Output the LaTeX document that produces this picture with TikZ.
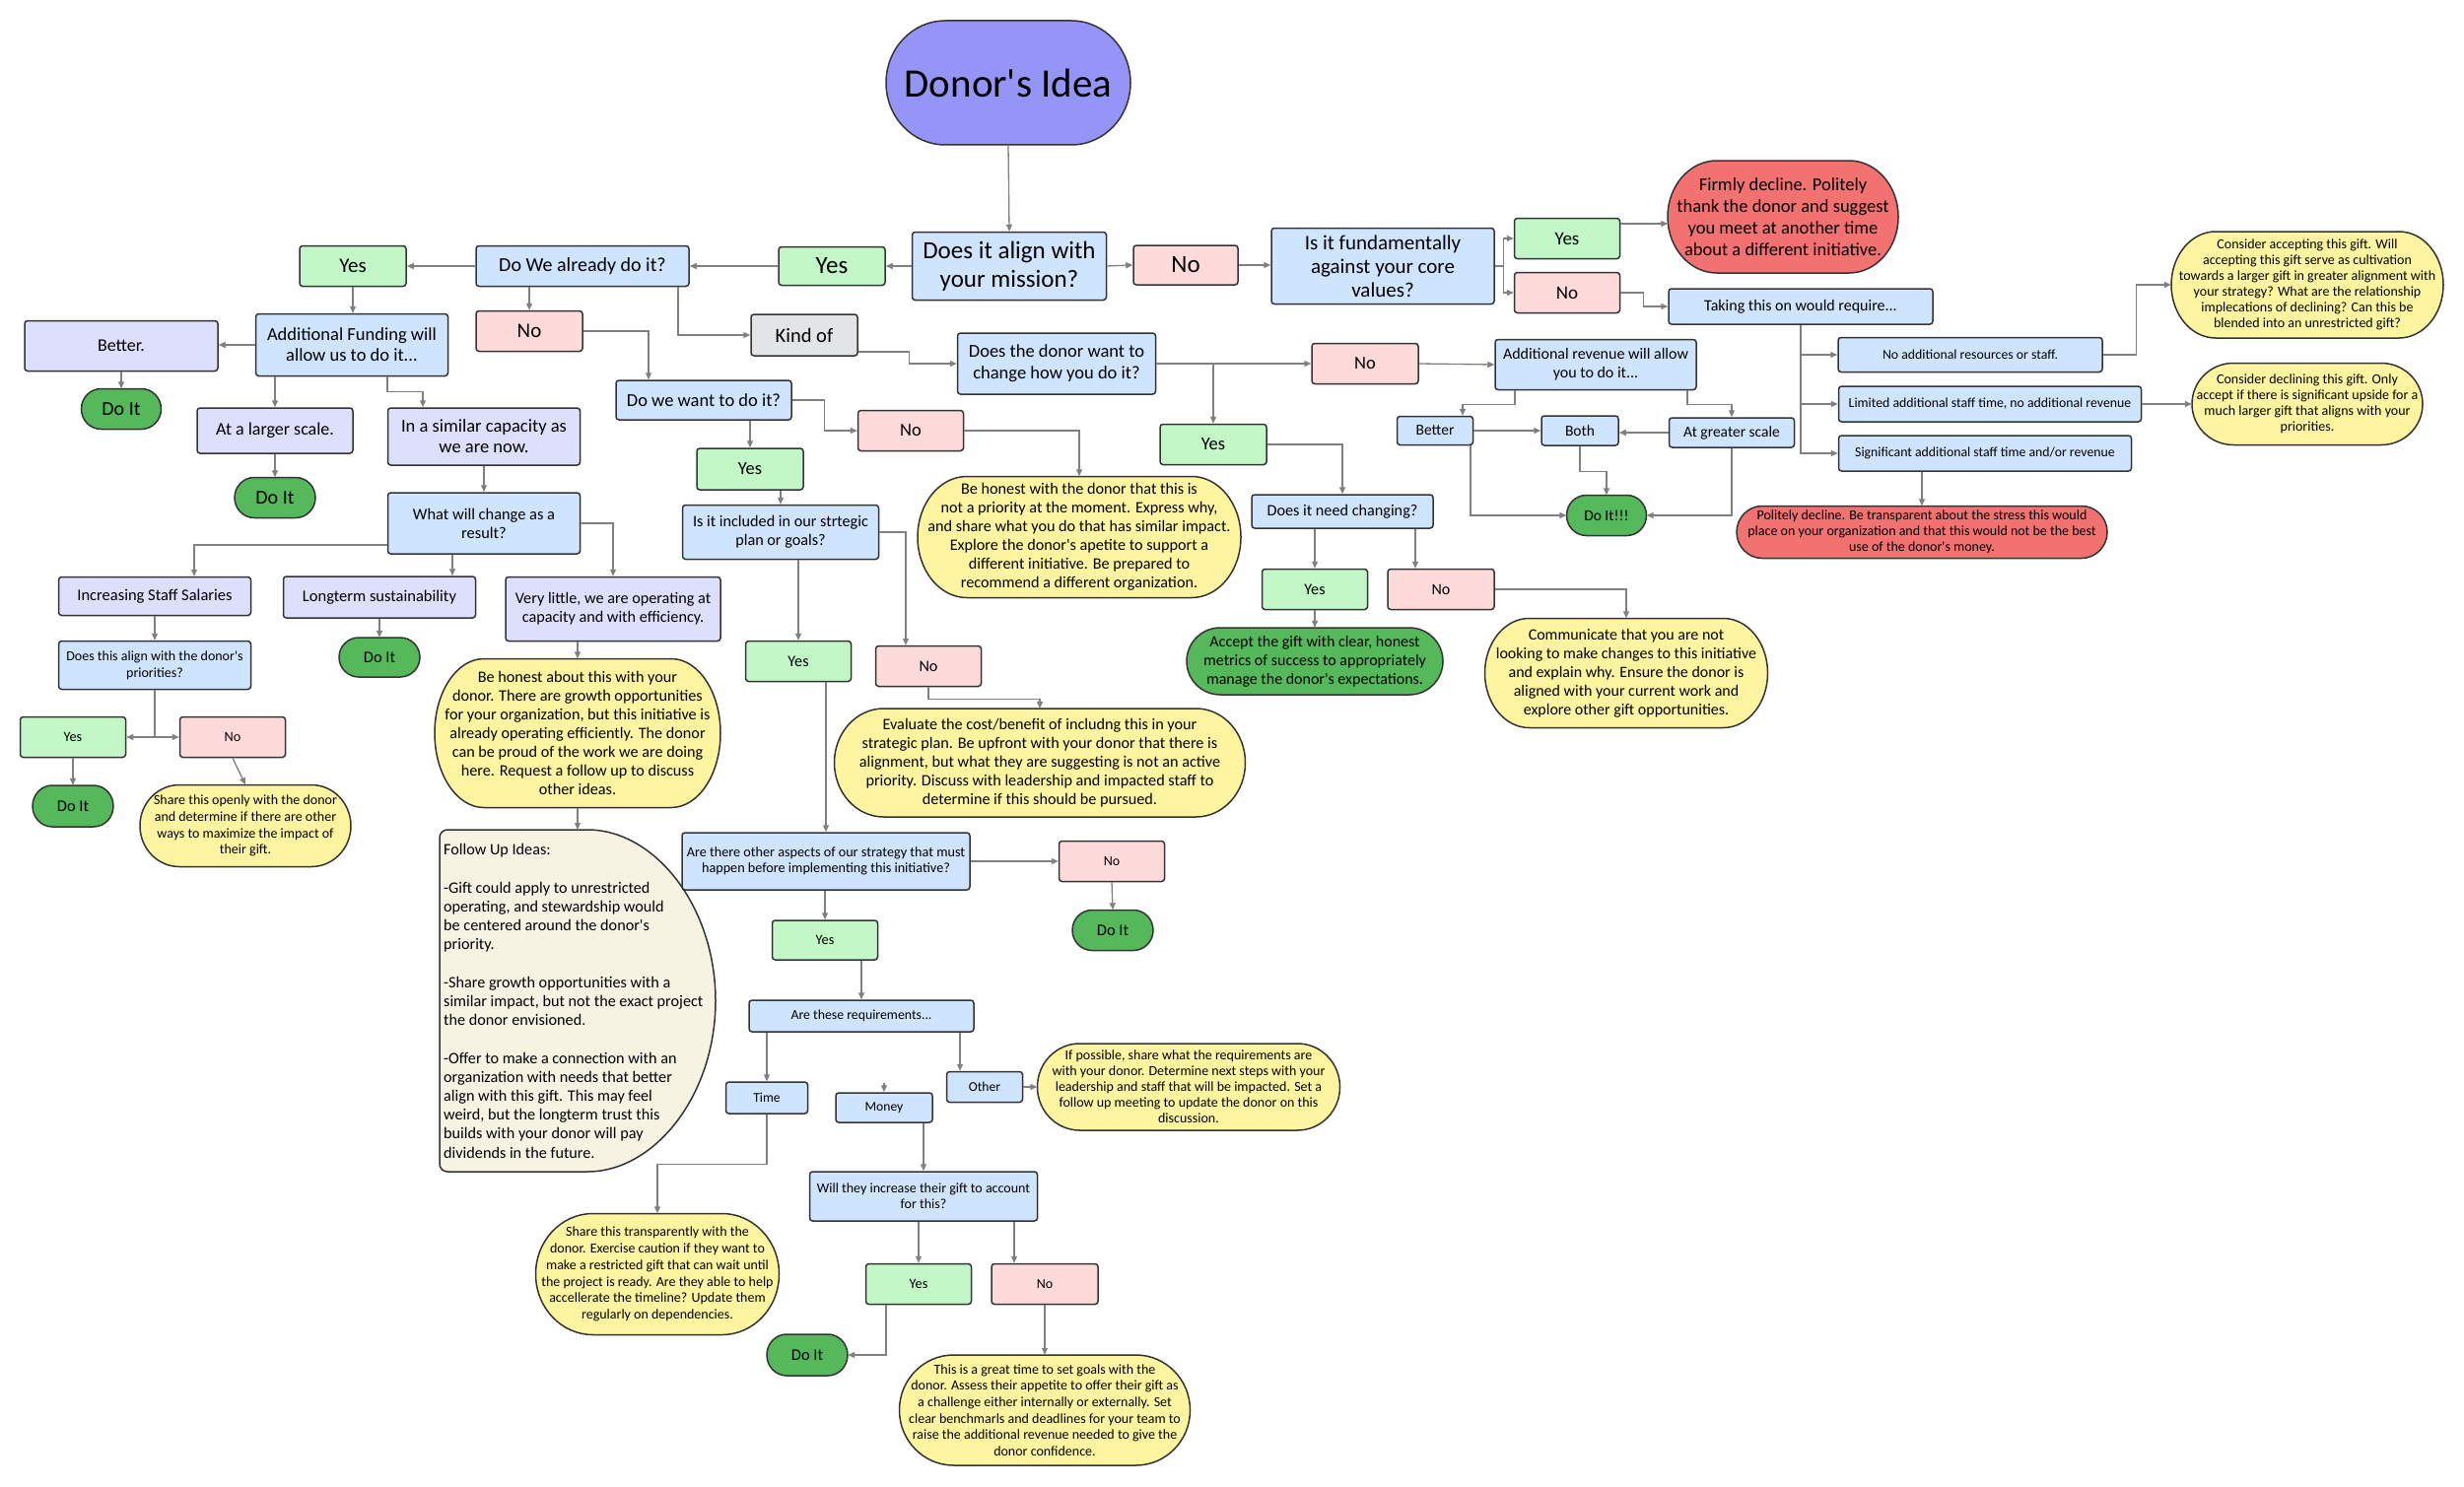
\documentclass[tikz,border=0pt]{standalone}
\usepackage{fontspec}
\setmainfont{Carlito}
\usetikzlibrary{arrows.meta,calc}
\definecolor{bluef}{HTML}{CFE4FF}
\definecolor{greenf}{HTML}{C3F7C8}
\definecolor{pinkf}{HTML}{FFDADA}
\definecolor{lavf}{HTML}{DEDEFD}
\definecolor{grayf}{HTML}{E3E4E6}
\definecolor{doitf}{HTML}{55B95C}
\definecolor{redf}{HTML}{F27272}
\definecolor{yelf}{HTML}{FFF5A1}
\definecolor{creamf}{HTML}{F6F3E3}
\definecolor{donorf}{HTML}{9595F8}
\definecolor{bd}{HTML}{333333}
\definecolor{conncol}{HTML}{808080}
\newcommand\fs[2]{\fontsize{#1}{#2}\selectfont}
\newcommand\ap{\textquotesingle}
% name, fill, cx, cy, w, h, rx, font, text
\newcommand\pill[9]{%
  \filldraw[fill=#2, draw=bd, line width=1.5pt]
    ({#3-#5/2+#7},{#4-#6/2}) -- ({#3+#5/2-#7},{#4-#6/2})
    arc[start angle=90,end angle=-90,x radius=#7pt,y radius={#6*0.5pt}]
    -- ({#3-#5/2+#7},{#4+#6/2})
    arc[start angle=270,end angle=90,x radius=#7pt,y radius={#6*0.5pt}] -- cycle;
  \node[txt, minimum width=#5pt, minimum height=#6pt, font=#8] (#1) at (#3,#4) {#9};}
\tikzset{
  txt/.style={inner sep=0pt, align=center},
  wh/.style 2 args={minimum width=#1pt, minimum height=#2pt},
  rbox/.style={draw=bd, line width=1.5pt, rounded corners=3pt, inner sep=1pt, align=center},
  qbox/.style={rbox, fill=bluef},
  ybox/.style={rbox, fill=greenf},
  nbox/.style={rbox, fill=pinkf},
  lbox/.style={rbox, fill=lavf},
  gbox/.style={rbox, fill=grayf},
  conn/.style={draw=conncol, line width=1.3pt, -{Triangle[length=7pt,width=6pt]}},
}
\begin{document}
\begin{tikzpicture}[x=1pt,y=-1pt]
\useasboundingbox (0,0) rectangle (2500,1509);
\fill[white] (0,0) rectangle (2500,1509);

% ---------- pill shapes ----------
\pill{donor}{donorf}{1023}{84}{248}{126}{60}{\fs{41}{44}}{Donor\ap s Idea}
\pill{firmly}{redf}{1809}{220}{234}{114}{50}{\fs{18.5}{22}}{Firmly decline. Politely\\thank the donor and suggest\\you meet at another time\\about a different initiative.}
\pill{politely}{redf}{1950}{540}{376}{53}{26}{\fs{14}{16}}{Politely decline. Be transparent about the stress this would\\place on your organization and that this would not be the best\\use of the donor\ap s money.}
\pill{consA}{yelf}{2341}{289}{276}{108}{45}{\fs{14}{16}}{Consider accepting this gift. Will\\accepting this gift serve as cultivation\\towards a larger gift in greater alignment with\\your strategy? What are the relationship\\implecations of declining? Can this be\\blended into an unrestricted gift?}
\pill{consD}{yelf}{2341}{410}{234}{83}{42}{\fs{14}{16}}{Consider declining this gift. Only\\accept if there is significant upside for a\\much larger gift that aligns with your\\priorities.}
\pill{doit1}{doitf}{123}{415}{81}{41}{20}{\fs{20}{22}}{Do It}
\pill{doit2}{doitf}{279}{505}{82}{41}{20}{\fs{20}{22}}{Do It}
\pill{doitL}{doitf}{385}{667}{82}{40}{20}{\fs{16.5}{19}}{Do It}
\pill{doitD}{doitf}{74}{818}{82}{42}{20}{\fs{16.5}{19}}{Do It}
\pill{shareO}{yelf}{249}{838}{214}{83}{40}{\fs{14}{16.7}}{Share this openly with the donor\\and determine if there are other\\ways to maximize the impact of\\their gift.}
\pill{beh}{yelf}{586}{744}{290}{151}{50}{\fs{16.2}{19}}{Be honest about this with your\\donor. There are growth opportunities\\for your organization, but this initiative is\\already operating efficiently. The donor\\can be proud of the work we are doing\\here. Request a follow up to discuss\\other ideas.}
\pill{honestD}{yelf}{1095}{545}{328}{123}{50}{\fs{16.2}{19}}{Be honest with the donor that this is\\not a priority at the moment. Express why,\\and share what you do that has similar impact.\\Explore the donor\ap s apetite to support a\\different initiative. Be prepared to\\recommend a different organization.}
\pill{eval}{yelf}{1055}{774}{417}{110}{50}{\fs{16.2}{19}}{Evaluate the cost/benefit of includng this in your\\strategic plan. Be upfront with your donor that there is\\alignment, but what they are suggesting is not an active\\priority. Discuss with leadership and impacted staff to\\determine if this should be pursued.}
\pill{doitX}{doitf}{1129}{944}{82}{41}{20}{\fs{16.5}{19}}{Do It}
\pill{ifposs}{yelf}{1206}{1103}{307}{88}{43}{\fs{14}{16}}{If possible, share what the requirements are\\with your donor. Determine next steps with your\\leadership and staff that will be impacted. Set a\\follow up meeting to update the donor on this\\discussion.}
\pill{shareT}{yelf}{667}{1293}{247}{123}{58}{\fs{14}{16.7}}{Share this transparently with the\\donor. Exercise caution if they want to\\make a restricted gift that can wait until\\the project is ready. Are they able to help\\accellerate the timeline? Update them\\regularly on dependencies.}
\pill{doitM}{doitf}{819}{1375}{82}{42}{20}{\fs{16.5}{19}}{Do It}
\pill{great}{yelf}{1060}{1431}{295}{112}{55}{\fs{14}{16.7}}{This is a great time to set goals with the\\donor. Assess their appetite to offer their gift as\\a challenge either internally or externally. Set\\clear benchmarls and deadlines for your team to\\raise the additional revenue needed to give the\\donor confidence.}
\pill{doitR}{doitf}{1630}{523}{81}{41}{20}{\fs{15.5}{18}}{Do It!!!}
\pill{accept}{doitf}{1334}{671}{260}{68}{34}{\fs{16}{19}}{Accept the gift with clear, honest\\metrics of success to appropriately\\manage the donor\ap s expectations.}
\pill{comm}{yelf}{1650}{683}{287}{111}{45}{\fs{16}{19}}{Communicate that you are not\\looking to make changes to this initiative\\and explain why. Ensure the donor is\\aligned with your current work and\\explore other gift opportunities.}

% follow up shape
\filldraw[fill=creamf, draw=bd, line width=1.5pt, rounded corners=8pt]
  (500,842) -- (446,842) -- (446,1189) -- (588,1189)
  arc[start angle=-90,end angle=90,x radius=138pt,y radius=173.5pt] -- cycle;
\node[txt, align=left, anchor=west, font=\fs{16.2}{19.2}] (fu) at (450,1016)
 {Follow Up Ideas:\\[19.2pt]-Gift could apply to unrestricted\\operating, and stewardship would\\be centered around the donor\ap s\\priority.\\[19.2pt]-Share growth opportunities with a\\similar impact, but not the exact project\\the donor envisioned.\\[19.2pt]-Offer to make a connection with an\\organization with needs that better\\align with this gift. This may feel\\weird, but the longterm trust this\\builds with your donor will pay\\dividends in the future.};
\coordinate (futop) at (586,842);

% ---------- rectangles ----------
\node[qbox, wh={197}{69}, font=\fs{25}{29}] (align) at (1024,270) {Does it align with\\your mission?};
\node[ybox, wh={108}{39}, font=\fs{25}{29}] (yesA) at (844,270) {Yes};
\node[nbox, wh={106}{40}, font=\fs{25}{29}] (noA) at (1203,269) {No};
\node[qbox, wh={226}{77}, font=\fs{21}{24}] (fund) at (1403,270) {Is it fundamentally\\against your core\\values?};
\node[ybox, wh={107}{41}, font=\fs{19}{22}] (yesF) at (1590,242) {Yes};
\node[nbox, wh={107}{41}, font=\fs{19}{22}] (noF) at (1590,297) {No};
\node[qbox, wh={268}{36}, font=\fs{16}{19}] (taking) at (1827,311) {Taking this on would require...};
\node[qbox, wh={268}{35}, font=\fs{13.8}{16}] (opt1) at (1999,360) {No additional resources or staff.};
\node[qbox, wh={307}{36}, font=\fs{13.8}{16}] (opt2) at (2019,410) {Limited additional staff time, no additional revenue};
\node[qbox, wh={297}{36}, font=\fs{13.8}{16}] (opt3) at (2014,460) {Significant additional staff time and/or revenue};

\node[qbox, wh={216}{41}, font=\fs{20}{23}] (already) at (591,270) {Do We already do it?};
\node[ybox, wh={108}{41}, font=\fs{21}{23}] (yesL) at (358,270) {Yes};
\node[qbox, wh={195}{63}, font=\fs{18.5}{21}] (addf) at (357,350) {Additional Funding will\\allow us to do it...};
\node[lbox, wh={196}{51}, font=\fs{18}{21}] (better) at (123,351) {Better.};
\node[lbox, wh={158}{46}, font=\fs{18}{21}] (larger) at (279,437) {At a larger scale.};
\node[lbox, wh={195}{58}, font=\fs{18.5}{21}] (similar) at (491,443) {In a similar capacity as\\we are now.};
\node[qbox, wh={195}{62}, font=\fs{16.4}{19}] (what) at (491,531) {What will change as a\\result?};
\node[lbox, wh={195}{39}, font=\fs{16.5}{19}] (incr) at (157,605) {Increasing Staff Salaries};
\node[lbox, wh={195}{42}, font=\fs{16.5}{19}] (longt) at (385,606) {Longterm sustainability};
\node[lbox, wh={218}{65}, font=\fs{16.2}{19}] (very) at (622,618) {Very little, we are operating at\\capacity and with efficiency.};
\node[qbox, wh={195}{49}, font=\fs{14}{17}] (alignd) at (157,675) {Does this align with the donor\ap s\\priorities?};
\node[ybox, wh={107}{41}, font=\fs{14.3}{17}] (yesD) at (74,748) {Yes};
\node[nbox, wh={107}{41}, font=\fs{14.3}{17}] (noD2) at (236,748) {No};

\node[nbox, wh={108}{41}, font=\fs{21}{23}] (noD) at (537,336) {No};
\node[gbox, wh={108}{42}, font=\fs{20.5}{23}] (kind) at (816,340) {Kind of};
\node[qbox, wh={178}{40}, font=\fs{18.5}{21}] (want) at (714,406) {Do we want to do it?};
\node[nbox, wh={107}{41}, font=\fs{18.5}{21}] (noW) at (924,437) {No};
\node[ybox, wh={108}{42}, font=\fs{18.5}{21}] (yesW) at (761,476) {Yes};
\node[qbox, wh={199}{55}, font=\fs{16.2}{19}] (incl) at (792,540) {Is it included in our strtegic\\plan or goals?};
\node[ybox, wh={107}{41}, font=\fs{16.2}{19}] (yesS) at (810,671) {Yes};
\node[nbox, wh={107}{41}, font=\fs{16.2}{19}] (noS) at (942,676) {No};
\node[qbox, wh={292}{58}, font=\fs{14.2}{16}] (aspects) at (838,874) {Are there other aspects of our strategy that must\\happen before implementing this initiative?};
\node[nbox, wh={107}{41}, font=\fs{14}{16}] (noX) at (1128,874) {No};
\node[ybox, wh={107}{40}, font=\fs{14.3}{16}] (yesX) at (837,954) {Yes};
\node[qbox, wh={228}{32}, font=\fs{13.8}{16}] (req) at (874,1031) {Are these requirements...};
\node[qbox, wh={83}{32}, font=\fs{13.6}{16}] (time) at (778,1114) {Time};
\node[qbox, wh={98}{30}, font=\fs{13.6}{16}] (money) at (897,1124) {Money};
\node[qbox, wh={77}{31}, font=\fs{13.6}{16}] (other) at (999,1103) {Other};
\node[qbox, wh={231}{50}, font=\fs{14}{16}] (willthey) at (937,1214) {Will they increase their gift to account\\for this?};
\node[ybox, wh={107}{41}, font=\fs{14.3}{16}] (yesM) at (932,1303) {Yes};
\node[nbox, wh={108}{41}, font=\fs{14}{16}] (noM) at (1060,1303) {No};

\node[qbox, wh={201}{62}, font=\fs{18.5}{22}] (dwant) at (1072,369) {Does the donor want to\\change how you do it?};
\node[ybox, wh={108}{41}, font=\fs{18.5}{21}] (yesR) at (1231,451) {Yes};
\node[nbox, wh={108}{41}, font=\fs{18.5}{21}] (noR) at (1385,369) {No};
\node[qbox, wh={204}{51}, font=\fs{16}{19}] (addrev) at (1619,370) {Additional revenue will allow\\you to do it...};
\node[qbox, wh={77}{29}, font=\fs{15.5}{18}] (betterR) at (1456,437) {Better};
\node[qbox, wh={78}{30}, font=\fs{15.5}{18}] (both) at (1603,437) {Both};
\node[qbox, wh={127}{30}, font=\fs{15.5}{18}] (atg) at (1757,439) {At greater scale};
\node[qbox, wh={184}{34}, font=\fs{16.2}{19}] (needc) at (1362,519) {Does it need changing?};
\node[ybox, wh={107}{41}, font=\fs{16.2}{19}] (yesN) at (1334,598) {Yes};
\node[nbox, wh={108}{41}, font=\fs{16}{19}] (noN) at (1462,598) {No};

% ---------- connectors ----------
\draw[conn] (donor.south) -- (align.north);
\draw[conn] (align.west) -- (yesA.east);
\draw[conn] (yesA.west) -- (already.east);
\draw[conn] (align.east) -- (noA.west);
\draw[conn] (noA.east) -- (noA.east -| fund.west);
\draw[conn] (fund.east) -- ++(9,0) |- (yesF.west);
\draw[conn] (fund.east) -- ++(9,0) |- (noF.west);
\draw[conn] ($(yesF.east)+(0,-15)$) -- ++(48,0);
\draw[conn] (noF.east) -- ++(23,0) |- (taking.west);
\draw[conn] (taking.south) |- (opt1.west);
\draw[conn] (taking.south) |- (opt2.west);
\draw[conn] (taking.south) |- (opt3.west);
\draw[conn] (opt1.east) -- ++(34,0) |- (consA.west);
\draw[conn] (opt2.east) -- (consD.west);
\draw[conn] (politely.north |- opt3.south) -- (politely.north);

\draw[conn] (already.west) -- (yesL.east);
\draw[conn] (yesL.south) -- (yesL.south |- addf.north);
\draw[conn] (addf.west) -- (addf.west -| better.east);
\draw[conn] (better.south) -- (doit1.north);
\draw[conn] (larger.north |- addf.south) -- (larger.north);
\draw[conn] ($(addf.south)+(36,0)$) -- ++(0,15) -| ($(similar.north)+(-62,0)$);
\draw[conn] (larger.south) -- (doit2.north);
\draw[conn] (similar.south) -- (what.north);
\draw[conn] ($(what.west)+(0,22)$) -| ($(incr.north)+(40,0)$);
\draw[conn] ($(what.south)+(-32,0)$) -- ($(longt.north)+(74,0)$);
\draw[conn] (what.east) -| (very.north);
\draw[conn] (incr.south) -- (alignd.north);
\draw[conn] (alignd.south) |- (yesD.east);
\draw[conn] (alignd.south) |- (noD2.west);
\draw[conn] (yesD.south) -- (doitD.north);
\draw[conn] (noD2.south) -- (shareO.north);
\draw[conn] (longt.south) -- (doitL.north);
\draw[conn] (beh.north |- very.south) -- (beh.north);
\draw[conn] (beh.south) -- (futop);

\draw[conn] (noD.north |- already.south) -- (noD.north);
\draw[conn] (noD.east) -| ($(want.north)+(-56,0)$);
\draw[conn] ($(already.south)+(97,0)$) |- (kind.west);
\draw[conn] ($(kind.east)+(0,17)$) -- ++(52,0) |- (dwant.west);
\draw[conn] (want.east) -- ++(33,0) |- (noW.west);
\draw[conn] (noW.east) -| (honestD.north);
\draw[conn] (yesW.north |- want.south) -- (yesW.north);
\draw[conn] (incl.north |- yesW.south) -- (incl.north);
\draw[conn] (yesS.north |- incl.south) -- (yesS.north);
\draw[conn] (incl.east) -| ($(noS.north)+(-23,0)$);
\draw[conn] (noS.south) -- ++(0,12) -| (eval.north);
\draw[conn] (aspects.north |- yesS.south) -- (aspects.north);
\draw[conn] (aspects.east) -- (noX.west);
\draw[conn] (noX.south) -- (doitX.north);
\draw[conn] (yesX.north |- aspects.south) -- (yesX.north);
\draw[conn] (req.north |- yesX.south) -- (req.north);
\draw[conn] (time.north |- req.south) -- (time.north);
\path ($(other.north)+(-25,0)$) coordinate (othin);
\draw[conn] (othin |- req.south) -- (othin);
\draw[conn] ($(money.north)+(0,-9)$) -- (money.north);
\draw[conn] (other.east) -- (ifposs.west);
\draw[conn] (time.south) -- ++(0,51) -| (shareT.north);
\draw[conn] (willthey.north |- money.south) -- (willthey.north);
\draw[conn] (yesM.north |- willthey.south) -- (yesM.north);
\path ($(noM.north)+(-31,0)$) coordinate (nomin);
\draw[conn] (nomin |- willthey.south) -- (nomin);
\draw[conn] ($(yesM.south)+(-33,0)$) |- (doitM.east);
\draw[conn] (noM.south) -- (great.north);

\draw[conn] (dwant.east) -| (yesR.north);
\draw[conn] (dwant.east) -- (noR.west);
\draw[conn] (noR.east) -- (addrev.west);
\draw[conn] ($(addrev.south)+(-82,0)$) -- ++(0,14) -| ($(betterR.north)+(28,0)$);
\draw[conn] ($(addrev.south)+(93,0)$) -- ++(0,14) -| (atg.north);
\draw[conn] (betterR.east) -- (both.west);
\draw[conn] (atg.west) -- (atg.west -| both.east);
\draw[conn] (both.south) -- ++(0,26) -| (doitR.north);
\draw[conn] ($(betterR.south)+(36,0)$) |- (doitR.west);
\draw[conn] (atg.south) |- (doitR.east);
\draw[conn] (yesR.east) -| (needc.north);
\draw[conn] (yesN.north |- needc.south) -- (yesN.north);
\path ($(noN.north)+(-26,0)$) coordinate (nonin);
\draw[conn] (nonin |- needc.south) -- (nonin);
\draw[conn] (yesN.south) -- (accept.north);
\draw[conn] (noN.east) -| (comm.north);
\end{tikzpicture}
\end{document}
